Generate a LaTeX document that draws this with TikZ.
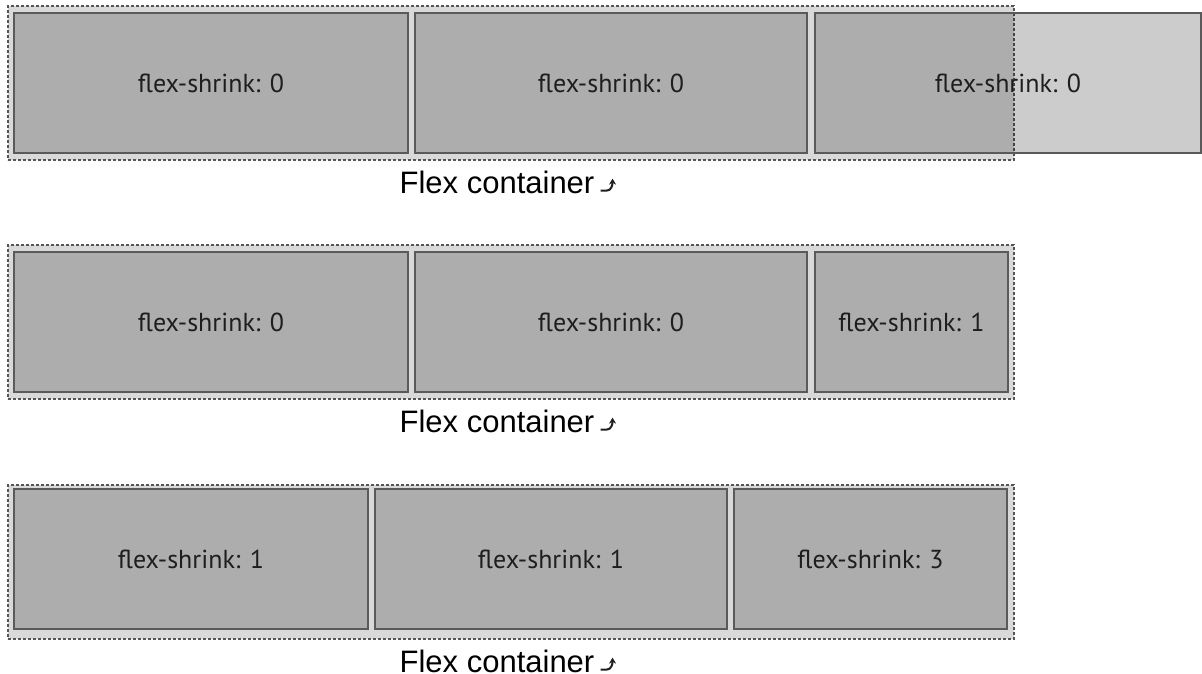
\documentclass[tikz,border=0pt]{standalone}
\usepackage{fontspec}
\setmainfont{PT Sans}
\newfontfamily\captionfont{Liberation Sans}
\usetikzlibrary{positioning,arrows.meta}
\definecolor{boxgray}{HTML}{D9D9D9}
\definecolor{edgegray}{HTML}{5A5A5A}
\definecolor{dashgray}{HTML}{555555}
\definecolor{inkgray}{HTML}{1E1E1E}

\begin{document}
\begin{tikzpicture}[
    x=1pt, y=-1pt,
    container/.style={draw=dashgray, dash pattern=on 3pt off 2pt, line width=1.5pt, fill=boxgray,
        minimum width=1006pt, minimum height=154pt, inner sep=0pt, outer sep=0pt},
    item/.style={draw=edgegray, line width=1.5pt, fill=black, fill opacity=0.2, draw opacity=1, text opacity=1,
        text=inkgray, minimum height=140pt, inner sep=0pt, outer sep=0pt, anchor=north west,
        font=\fontsize{26}{30}\selectfont},
    caption/.style={font=\captionfont\fontsize{31}{36}\selectfont, inner sep=0pt,
        below=11pt of #1, xshift=-14pt},
    hook/.style={-{Stealth[length=6pt, width=7pt]}, line width=2pt, inkgray},
]
    \useasboundingbox (0,0) rectangle (1202,674);

    % Row 1: nothing shrinks, last item overflows
    \node[container, anchor=north west] (flexA) at (8,6) {};
    \node[item, minimum width=394pt] (a1) at (14,13) {flex-shrink: 0};
    \node[item, minimum width=392pt, right=7pt of a1] (a2) {flex-shrink: 0};
    \node[item, minimum width=386pt, right=8pt of a2] (a3) {flex-shrink: 0};
    \node[caption=flexA] (capA) {Flex container};
    \coordinate (hookA) at ([xshift=6pt, yshift=3pt]capA.base east);
    \draw[hook] (hookA) -- ++(6,0) .. controls +(5,0) and +(0,6) .. ++(6,-12);

    % Row 2: last item shrinks
    \node[container, below=85pt of flexA] (flexB) {};
    \node[item, minimum width=394pt] (b1) at (14,252) {flex-shrink: 0};
    \node[item, minimum width=392pt, right=7pt of b1] (b2) {flex-shrink: 0};
    \node[item, minimum width=193pt, right=8pt of b2] (b3) {flex-shrink: 1};
    \node[caption=flexB] (capB) {Flex container};
    \coordinate (hookB) at ([xshift=6pt, yshift=3pt]capB.base east);
    \draw[hook] (hookB) -- ++(6,0) .. controls +(5,0) and +(0,6) .. ++(6,-12);

    % Row 3: all items shrink
    \node[container, below=86pt of flexB] (flexC) {};
    \node[item, minimum width=354pt] (c1) at (14,489) {flex-shrink: 1};
    \node[item, minimum width=352pt, right=7pt of c1] (c2) {flex-shrink: 1};
    \node[item, minimum width=273pt, right=7pt of c2] (c3) {flex-shrink: 3};
    \node[caption=flexC] (capC) {Flex container};
    \coordinate (hookC) at ([xshift=6pt, yshift=3pt]capC.base east);
    \draw[hook] (hookC) -- ++(6,0) .. controls +(5,0) and +(0,6) .. ++(6,-12);
\end{tikzpicture}
\end{document}
